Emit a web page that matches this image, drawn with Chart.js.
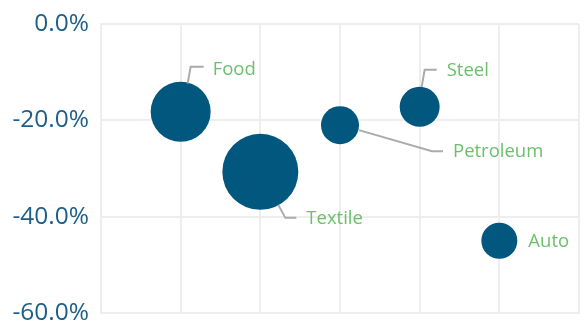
<!DOCTYPE html>
<html>
<head>
<meta charset="utf-8">
<script src="https://cdn.jsdelivr.net/npm/chart.js@4.4.1/dist/chart.umd.min.js"></script>
<style>
  html, body { margin: 0; padding: 0; background: #fff; }
  #wrap { width: 584px; height: 324px; position: relative; }
</style>
</head>
<body>
<div id="wrap"><canvas id="chart"></canvas></div>
<script>
// data
var sectors = ['Food', 'Textile', 'Petroleum', 'Steel', 'Auto'];
var xPos = [1, 2, 3, 4, 5];
var change = [-18.2, -30.7, -21.0, -17.2, -45.0];   // % change
var bubbleR = [30, 38, 19, 20, 18];                  // bubble radius
var yTicks = [0, -20, -40, -60];

var blue = '#02577f';
var green = '#6cc06c';
var tickBlue = '#1d5f88';
var gridGrey = '#eeeeee';

// leader line points + text anchor, relative to bubble centre
var labelPos = {
  Food:      { line: [[7, -28], [10, -45], [23, -45]], text: [32, -42] },
  Textile:   { line: [[18, 33], [25, 46], [36, 46]], text: [46, 47] },
  Petroleum: { line: [[19, 5], [92, 26], [103, 26]], text: [113, 27] },
  Steel:     { line: [[2, -20], [5, -37], [17, -37]], text: [27, -36] },
  Auto:      { line: null, text: [29, 1] }
};

var points = sectors.map(function (s, i) {
  return { x: xPos[i], y: change[i], r: bubbleR[i] };
});

var labelPlugin = {
  id: 'bubbleLabels',
  afterDatasetsDraw: function (chart) {
    var ctx = chart.ctx;
    var meta = chart.getDatasetMeta(0);
    ctx.save();
    meta.data.forEach(function (el, i) {
      var p = labelPos[sectors[i]];
      var cx = el.x, cy = el.y;
      if (p.line) {
        ctx.beginPath();
        ctx.strokeStyle = '#ababab';
        ctx.lineWidth = 2;
        ctx.moveTo(cx + p.line[0][0], cy + p.line[0][1]);
        for (var k = 1; k < p.line.length; k++) {
          ctx.lineTo(cx + p.line[k][0], cy + p.line[k][1]);
        }
        ctx.stroke();
      }
      ctx.fillStyle = green;
      ctx.font = '18.5px "Open Sans"';
      ctx.textAlign = 'left';
      ctx.textBaseline = 'middle';
      ctx.fillText(sectors[i], cx + p.text[0], cy + p.text[1]);
    });
    ctx.restore();
  }
};

new Chart(document.getElementById('chart'), {
  type: 'bubble',
  data: {
    datasets: [{
      data: points,
      backgroundColor: blue,
      borderColor: blue,
      borderWidth: 0
    }]
  },
  options: {
    responsive: true,
    maintainAspectRatio: false,
    animation: false,
    layout: { autoPadding: false, padding: { top: 24, right: 5, bottom: 11, left: 0 } },
    plugins: {
      legend: { display: false },
      tooltip: { enabled: false }
    },
    scales: {
      x: {
        type: 'linear',
        min: 0,
        max: 6,
        afterFit: function (axis) { axis.height = 0; },
        ticks: { display: false, stepSize: 1 },
        grid: { color: gridGrey, lineWidth: 2, drawTicks: false },
        border: { color: gridGrey, width: 2 }
      },
      y: {
        min: -60,
        max: 0,
        afterBuildTicks: function (axis) {
          axis.ticks = yTicks.map(function (v) { return { value: v }; });
        },
        afterFit: function (axis) {
          axis.width = 101;
          axis.paddingTop = 0;
          axis.paddingBottom = 0;
        },
        ticks: {
          color: tickBlue,
          font: { family: '"Open Sans"', size: 24.5 },
          padding: 12,
          callback: function (v) { return v.toFixed(1) + '%'; }
        },
        grid: { color: gridGrey, lineWidth: 2, drawTicks: false },
        border: { color: gridGrey, width: 2 }
      }
    }
  },
  plugins: [labelPlugin]
});
</script>
</body>
</html>
